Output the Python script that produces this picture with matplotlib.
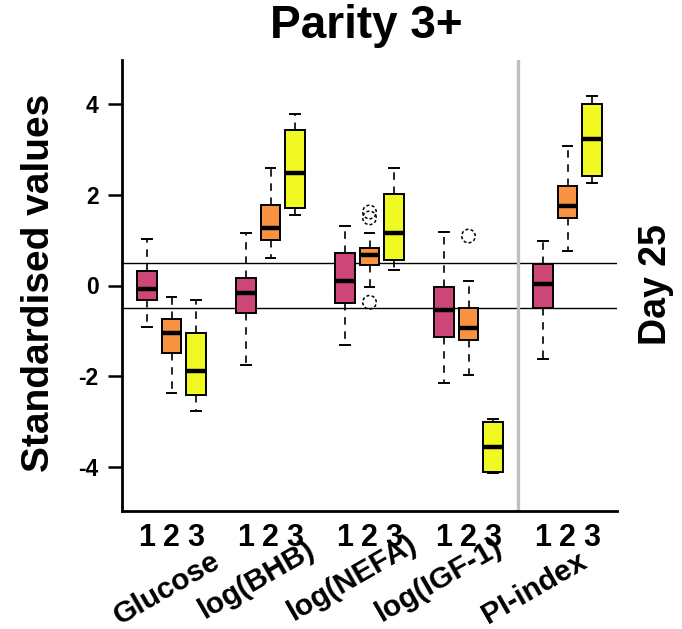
import matplotlib
matplotlib.use("Agg")
import matplotlib.pyplot as plt

# ---- data ----
variables = ["Glucose", "log(BHB)", "log(NEFA)", "log(IGF-1)", "PI-index"]
groups = ["1", "2", "3"]
colors = ["#CC4678", "#F89441", "#F0F921"]

whis_lo = [-0.92, -2.37, -2.76,
           -1.75, 0.61, 1.55,
           -1.32, -0.03, 0.34,
           -2.14, -1.97, -4.14,
           -1.62, 0.77, 2.25]
q1 = [-0.33, -1.48, -2.41,
      -0.61, 1.00, 1.71,
      -0.38, 0.45, 0.56,
      -1.13, -1.20, -4.11,
      -0.50, 1.48, 2.41]
med = [-0.07, -1.04, -1.88,
       -0.17, 1.27, 2.49,
       0.10, 0.67, 1.16,
       -0.55, -0.94, -3.55,
       0.03, 1.75, 3.23]
q3 = [0.33, -0.73, -1.05,
      0.17, 1.78, 3.42,
      0.72, 0.83, 2.01,
      -0.03, -0.50, -3.01,
      0.47, 2.20, 4.01]
whis_hi = [1.02, -0.26, -0.33,
           1.15, 2.60, 3.79,
           1.32, 1.15, 2.60,
           1.18, 0.10, -2.94,
           0.99, 3.07, 4.18]
outliers = [[], [], [],
            [], [], [],
            [], [1.62, 1.49, -0.37], [],
            [], [1.09], [],
            [], [], []]

ref_lines = [0.5, -0.5]
yticks = [4, 2, 0, -2, -4]

# ---- layout ----
W, H = 682, 629
fig = plt.figure(figsize=(W / 100, H / 100), dpi=100)
ax_l, ax_r, ax_t, ax_b = 122, 617, 60, 511
ax = fig.add_axes([ax_l / W, 1 - ax_b / H, (ax_r - ax_l) / W, (ax_b - ax_t) / H])

FONT = "Liberation Sans"

positions = []
for g in range(len(variables)):
    for k in range(len(groups)):
        positions.append(g * 4 + k + 1)

stats = []
for i in range(len(med)):
    stats.append(dict(med=med[i], q1=q1[i], q3=q3[i],
                      whislo=whis_lo[i], whishi=whis_hi[i], fliers=[]))

bp = ax.bxp(stats, positions=positions, widths=0.8, capwidths=0.4,
            patch_artist=True, showfliers=False,
            boxprops=dict(edgecolor="black", linewidth=1.4),
            medianprops=dict(color="black", linewidth=3.2, solid_capstyle="butt"),
            whiskerprops=dict(color="black", linewidth=1.2, linestyle=(0, (4.5, 4))),
            capprops=dict(color="black", linewidth=1.4))
for i, patch in enumerate(bp["boxes"]):
    patch.set_facecolor(colors[i % 3])

for i, fl in enumerate(outliers):
    if fl:
        ax.scatter([positions[i]] * len(fl), fl, s=95, facecolors="none",
                   edgecolors="black", linewidths=1.1,
                   linestyles=(0, (2, 1.5)), zorder=4)

for yv in ref_lines:
    ax.axhline(yv, color="black", linewidth=1.0, zorder=1)
ax.axvline(16, color="#BEBEBE", linewidth=2.4, zorder=1)

ax.set_xlim(0, 20)
ax.set_ylim(-4.97, 4.97)

for s in ["top", "right"]:
    ax.spines[s].set_visible(False)
ax.spines["left"].set_linewidth(2.0)
ax.spines["bottom"].set_linewidth(2.0)

ax.set_yticks(yticks)
ax.set_yticklabels([str(v) for v in yticks], fontsize=16.5, fontweight="bold", family=FONT)
ax.tick_params(axis="y", length=10, width=1.8, pad=7)

ax.set_xticks(positions)
ax.set_xticklabels(groups * len(variables), fontsize=22, fontweight="bold", family=FONT)
ax.tick_params(axis="x", length=0, pad=9)

# rotated variable names
label_shift = [-0.2, -0.55, -0.7, -1.2, -1.35]
label_y = [-0.172, -0.153, -0.147, -0.153, -0.17]
trans = matplotlib.transforms.blended_transform_factory(ax.transData, ax.transAxes)
for g, name in enumerate(variables):
    ax.text(g * 4 + 2 + label_shift[g], label_y[g], name, transform=trans,
            rotation=30, ha="center", va="center", rotation_mode="anchor",
            fontsize=21.5, fontweight="bold", family=FONT, clip_on=False)

fig.text(366 / W, 1 - 38 / H, "Parity 3+", ha="center", va="baseline",
         fontsize=33, fontweight="bold", family=FONT)
fig.text(39 / W, 1 - 283 / H, "Standardised values", ha="center", va="center",
         rotation=90, fontsize=28, fontweight="bold", family=FONT)
fig.text(656 / W, 1 - 285 / H, "Day 25", ha="center", va="center",
         rotation=90, fontsize=27, fontweight="bold", family=FONT)

fig.savefig("out.png", dpi=100)
